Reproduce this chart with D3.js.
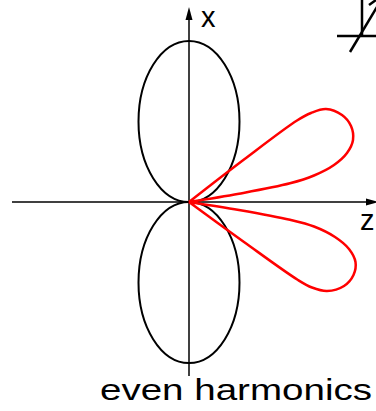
<!DOCTYPE html>
<html>
<head>
<meta charset="utf-8">
<script src="https://cdn.jsdelivr.net/npm/d3@7"></script>
<style>
  html, body { margin: 0; padding: 0; background: #fff; }
  svg { display: block; }
  text { font-family: "Liberation Sans", Arial, sans-serif; fill: #000; }
</style>
</head>
<body>
<svg id="chart" width="376" height="411"></svg>
<script>
// Axis extents in pattern units (z horizontal, x vertical)
const zAxisRange = [-1.77, 1.90];
const xAxisRange = [-1.74, 1.95];

// Dipole lobes along x: [length, full width]
const blackLobes = [
  { dir: 1,  length: 1.61, width: 1.01 },
  { dir: -1, length: 1.61, width: 1.01 }
];

// Even-harmonic lobe outlines, [z, x] samples from origin round the lobe back to origin
const redUpper = [
  [0, 0], [0.50, 0.083], [1.01, 0.187], [1.25, 0.265], [1.45, 0.37],
  [1.58, 0.49], [1.64, 0.62], [1.62, 0.76], [1.53, 0.87],
  [1.37, 0.93], [1.22, 0.89], [1.08, 0.815], [0.55, 0.425], [0, 0]
];
const redLower = [
  [0, 0], [0.50, -0.08], [1.01, -0.178], [1.25, -0.245], [1.46, -0.35],
  [1.60, -0.47], [1.665, -0.60], [1.645, -0.73], [1.55, -0.84],
  [1.38, -0.89], [1.23, -0.855], [1.09, -0.78], [0.55, -0.40], [0, 0]
];

// Corner coordinate-frame icon strokes, [z, x] pairs
const cornerIcon = [
  [[1.48, 1.66], [1.88, 1.66]],
  [[1.73, 2.03], [1.73, 1.66]],
  [[1.61, 1.50], [1.88, 1.95]],
  [[1.80, 1.97], [1.87, 2.02]]
];

const axisLabels = { vertical: "x", horizontal: "z" };
const caption = "even harmonics";

const svg = d3.select("#chart");

const zScale = d3.scaleLinear().domain([0, 1]).range([189, 289]);
const xScale = d3.scaleLinear().domain([0, 1]).range([202, 102]);

const line = d3.line().x(d => zScale(d[0])).y(d => xScale(d[1]));

// axes
const axes = svg.append("g").attr("stroke", "#000").attr("stroke-width", 1.5);
axes.append("line")
  .attr("x1", zScale(zAxisRange[0])).attr("x2", zScale(zAxisRange[1]) - 10)
  .attr("y1", xScale(0)).attr("y2", xScale(0));
axes.append("line")
  .attr("x1", zScale(0)).attr("x2", zScale(0))
  .attr("y1", xScale(xAxisRange[0])).attr("y2", xScale(xAxisRange[1]) + 10);

// arrowheads
const zTip = [zScale(zAxisRange[1]), xScale(0)];
svg.append("path")
  .attr("d", `M${zTip[0]},${zTip[1]} L${zTip[0] - 13},${zTip[1] - 3.5} L${zTip[0] - 13},${zTip[1] + 3.5} Z`)
  .attr("fill", "#000");
const xTip = [zScale(0), xScale(xAxisRange[1])];
svg.append("path")
  .attr("d", `M${xTip[0]},${xTip[1]} L${xTip[0] - 3.5},${xTip[1] + 13} L${xTip[0] + 3.5},${xTip[1] + 13} Z`)
  .attr("fill", "#000");

// black lobes
svg.append("g").selectAll("ellipse").data(blackLobes).join("ellipse")
  .attr("cx", zScale(0))
  .attr("cy", d => xScale(d.dir * d.length / 2))
  .attr("rx", d => zScale(d.width / 2) - zScale(0))
  .attr("ry", d => Math.abs(xScale(d.length / 2) - xScale(0)))
  .attr("fill", "none")
  .attr("stroke", "#000")
  .attr("stroke-width", 2);

// red lobes
svg.append("g").selectAll("path").data([redUpper, redLower]).join("path")
  .attr("d", line.curve(d3.curveCatmullRom.alpha(0.5)))
  .attr("fill", "none")
  .attr("stroke", "#ff0000")
  .attr("stroke-width", 2.5)
  .attr("stroke-linejoin", "round");

// corner icon
svg.append("g").selectAll("path").data(cornerIcon).join("path")
  .attr("d", d3.line().x(d => zScale(d[0])).y(d => xScale(d[1])))
  .attr("stroke", "#000")
  .attr("stroke-width", 2.5)
  .attr("fill", "none");

// labels
svg.append("text")
  .attr("x", zScale(0) + 12).attr("y", 27)
  .attr("font-size", 29)
  .text(axisLabels.vertical);
svg.append("text")
  .attr("x", 360).attr("y", 230)
  .attr("font-size", 29)
  .text(axisLabels.horizontal);
svg.append("text")
  .attr("x", 100).attr("y", 400)
  .attr("font-size", 30)
  .attr("textLength", 272)
  .attr("lengthAdjust", "spacingAndGlyphs")
  .text(caption);
</script>
</body>
</html>
